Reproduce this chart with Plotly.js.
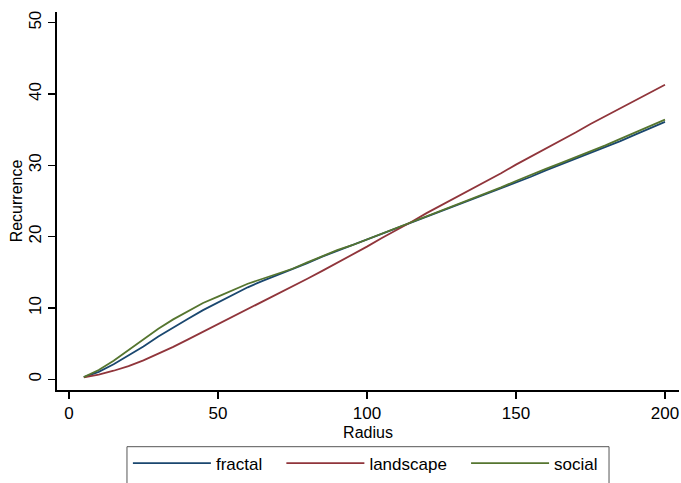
<!DOCTYPE html>
<html>
<head>
<meta charset="utf-8">
<script src="https://cdn.plot.ly/plotly-3.0.1.min.js"></script>
<style>html,body{margin:0;padding:0;background:#fff;}#chart{width:681px;height:483px;}</style>
</head>
<body>
<div id="chart"></div>
<script>
var radius = [5,10,15,20,25,30,35,40,45,50,55,60,65,70,75,80,85,90,95,100,105,110,115,120,125,130,135,140,145,150,155,160,165,170,175,180,185,190,195,200];
var fractal = [0.3,1.05,2.1,3.3,4.6,6.0,7.3,8.5,9.7,10.8,11.8,12.9,13.8,14.6,15.4,16.3,17.2,18.0,18.8,19.5,20.3,21.1,21.9,22.7,23.5,24.4,25.2,26.0,26.8,27.6,28.4,29.3,30.1,31.0,31.8,32.6,33.4,34.3,35.2,36.1];
var landscape = [0.28,0.65,1.2,1.85,2.65,3.55,4.55,5.6,6.65,7.7,8.75,9.8,10.9,11.95,13.0,14.1,15.2,16.3,17.4,18.6,19.8,20.9,22.1,23.3,24.4,25.5,26.7,27.8,28.9,30.1,31.2,32.3,33.5,34.6,35.8,36.9,38.0,39.1,40.3,41.3];
var social = [0.3,1.3,2.6,4.1,5.7,7.1,8.4,9.6,10.7,11.6,12.5,13.4,14.1,14.8,15.5,16.4,17.3,18.1,18.8,19.6,20.4,21.2,22.0,22.8,23.6,24.4,25.2,26.1,26.9,27.8,28.7,29.5,30.3,31.1,32.0,32.8,33.7,34.6,35.5,36.4];
var seriesNames = ["fractal","landscape","social"];
var seriesColors = ["#1a476f","#90353b","#55752f"];
var seriesData = [fractal, landscape, social];
var xTicks = [0,50,100,150,200];
var yTicks = [0,10,20,30,40,50];

var pad = '\u00a0\u00a0\u00a0';
var traces = seriesData.map(function(d,i){
  return {x: radius, y: d, type:'scatter', mode:'lines', name: seriesNames[i] + (i < seriesData.length-1 ? pad : ''),
          line:{color: seriesColors[i], width:1.8}};
});
var font = {family:'"Liberation Sans", Arial, Helvetica, sans-serif', color:'#000', size:17};
var layout = {
  width:681, height:483,
  margin:{l:57, r:2, t:12, b:91},
  paper_bgcolor:'#fff', plot_bgcolor:'#fff',
  font: font,
  showlegend:true,
  xaxis:{range:[-4,204.7], tickvals:xTicks, ticks:'outside', ticklen:7, tickwidth:1.5, tickcolor:'#000',
         showgrid:false, zeroline:false, showline:true, linecolor:'#000', linewidth:2,
         tickfont:{size:17}, title:{text:'Radius', font:{size:16}, standoff:4}},
  yaxis:{range:[-1.5,51.5], tickvals:yTicks, ticks:'outside', ticklen:7, tickwidth:1.5, tickcolor:'#000',
         tickangle:-90, showgrid:false, zeroline:false, showline:true, linecolor:'#000', linewidth:2,
         tickfont:{size:17}, title:{text:'Recurrence', font:{size:16}, standoff:0}},
  legend:{orientation:'h', x:0.114, xanchor:'left', y:-0.1947, yanchor:'middle',
          borderwidth:0, font:{size:17}, itemwidth:78, bgcolor:'rgba(0,0,0,0)'},
  shapes:[{type:'rect', xref:'paper', yref:'paper', x0:0.1125, x1:0.8875, y0:-0.15, y1:-0.32,
           line:{color:'#555', width:1}, fillcolor:'rgba(0,0,0,0)', layer:'below'}]
};
Plotly.newPlot('chart', traces, layout, {displayModeBar:false, staticPlot:true});
</script>
</body>
</html>
